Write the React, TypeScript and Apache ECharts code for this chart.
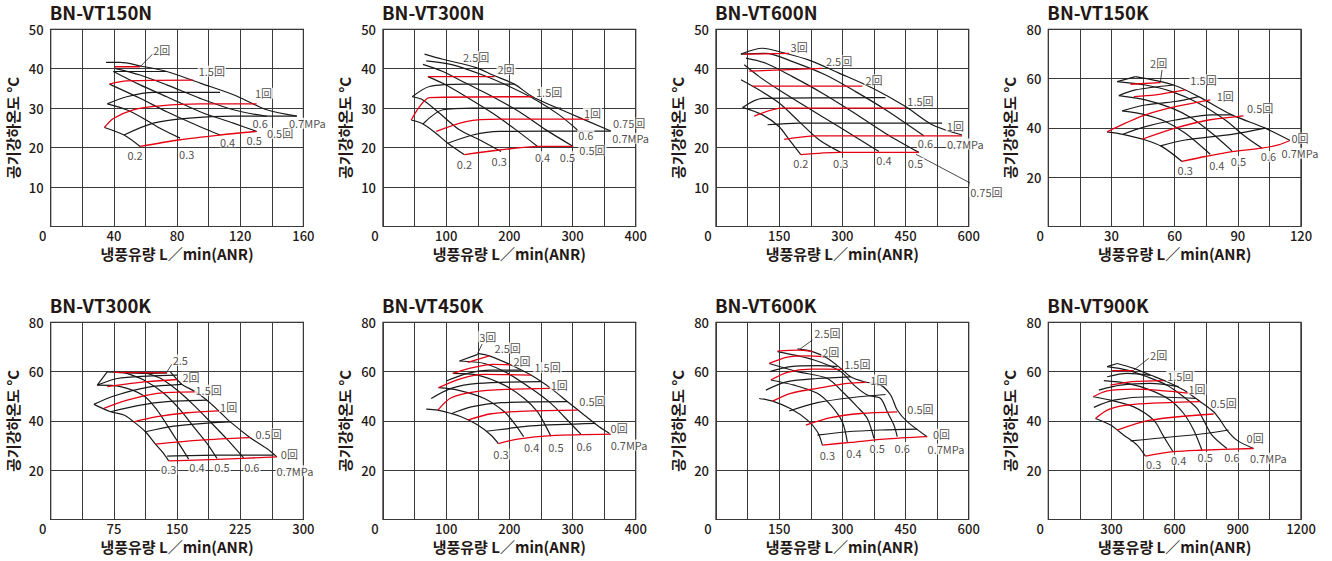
import React, { useEffect, useRef } from "react";
import * as echarts from "echarts";

type Pt = [number, number];
type Curve = Pt[];
type Lbl = [string, number, number];

const titles = ["BN-VT150N", "BN-VT300N", "BN-VT600N", "BN-VT150K", "BN-VT300K", "BN-VT450K", "BN-VT600K", "BN-VT900K"];
const xMaxes = [160, 400, 600, 120, 300, 400, 600, 1200];
const xLabelSteps = [40, 100, 150, 30, 75, 100, 150, 300];
const yMaxes = [50, 50, 50, 80, 80, 80, 80, 80];
const ySteps = [10, 10, 10, 20, 20, 20, 20, 20];
const xName = "냉풍유량 L／min(ANR)";
const yName = "공기강하온도 °C";

// ---------- BN-VT150N ----------
const vt150nBlack: Curve[] = [
  [[35, 41.6], [44, 41.6], [57, 40.7], [73.5, 39.3], [95, 36.3], [115.7, 33.4], [136.8, 29.6], [155.8, 28]],
  [[40.7, 40.1], [56.6, 38.4], [73.5, 35.9], [94.6, 32.5], [115.7, 29.6], [136.8, 27.9]],
  [[39.7, 39.3], [56.6, 35.9], [73.5, 32.9], [94.6, 29.1], [115.7, 26.2], [130.4, 24.1]],
  [[37.2, 36.1], [56.6, 32.5], [73.5, 29.1], [94.6, 25.3], [107.2, 23.2]],
  [[35.9, 31.1], [48.1, 29.6], [58.7, 27.4], [69.2, 24.9], [81.9, 22.4]],
  [[34, 25.1], [46.4, 23.2], [56.6, 20.3]],
  [[39.7, 39.3], [73.5, 39.3]],
  [[35.9, 31.1], [48.1, 32.9], [65, 34], [107.2, 34]],
  [[46.4, 23.2], [65, 26.2], [86.1, 27.4], [115.7, 28], [155.8, 28]],
];
const vt150nRed: Curve[] = [
  [[40.7, 40.5], [56.6, 40.5]],
  [[37.2, 36.1], [48.1, 36.9], [90.3, 37.1]],
  [[34, 25.1], [39.7, 27.4], [52.3, 29.6], [69.2, 30.6], [94.6, 31.1], [130.4, 31.1]],
  [[56.6, 20.3], [81.9, 22], [107.2, 23.2], [130.4, 24.1]],
];
const vt150nLeaders: Curve[] = [[[56.6, 40.5], [65, 43.9]]];
const vt150nLabels: Lbl[] = [
  ["2回", 70.3, 44.8], ["1.5回", 102, 39.4], ["1回", 134.7, 33.8], ["0.5回", 145.2, 23.6],
  ["0.2", 53.4, 18.2], ["0.3", 86.1, 18.4], ["0.4", 112, 21.5], ["0.5", 128.8, 22], ["0.6", 132.6, 26.2], ["0.7MPa", 162.5, 26.2],
];

// ---------- BN-VT300N ----------
const vt300nBlack: Curve[] = [
  [[65.8, 43.7], [94.7, 42.4], [147.4, 40.3], [173.7, 38.4], [207.9, 36.1], [236.8, 32.9], [289.5, 29.1], [360.5, 24.2]],
  [[68.4, 42.0], [110.5, 41.0], [157.9, 38.4], [200, 35.5], [242.1, 32.1], [278.9, 28.3], [310.5, 24.1]],
  [[63.2, 41.1], [94.7, 39.3], [131.6, 36.3], [173.7, 32.9], [215.8, 29.1], [257.9, 24.5], [301, 20.3]],
  [[71.1, 38.0], [94.7, 36.3], [131.6, 32.9], [173.7, 28.7], [210.5, 24.5], [244.7, 20.3]],
  [[46.3, 32.9], [63.2, 32.1], [89.5, 28.7], [121, 24.5], [152.6, 22.0], [186.8, 19.0]],
  [[44.7, 27.0], [63.2, 26.0], [84.2, 23.6], [102.6, 21.1], [128.9, 18.2]],
  [[46.3, 32.9], [73.7, 35.5], [131.6, 36.1], [207.9, 36.1]],
  [[63.2, 26.0], [94.7, 29.6], [142, 30.0], [282, 30.0]],
  [[102.6, 21.1], [142, 23.2], [184.2, 24.1], [360.5, 24.2]],
];
const vt300nRed: Curve[] = [
  [[71.1, 38.0], [176.3, 38.0]],
  [[44.7, 27.0], [57.9, 30.4], [73.7, 32.7], [236.8, 32.9]],
  [[84.2, 24.1], [131.6, 26.6], [184.2, 27.2], [326, 27.2]],
  [[128.9, 18.2], [184.2, 19.4], [247.4, 20.3], [301, 20.3]],
];
const vt300nLeaders: Curve[] = [];
const vt300nLabels: Lbl[] = [
  ["2.5回", 147.4, 43.1], ["2回", 194.7, 39.9], ["1.5回", 263, 34.0], ["1回", 331.6, 28.7], ["0.75回", 389.5, 26.2], ["0.5回", 331.6, 19.3],
  ["0.2", 129, 15.9], ["0.3", 184, 16.5], ["0.4", 252.6, 17.7], ["0.5", 292, 17.7], ["0.6", 321, 23.2], ["0.7MPa", 392, 22.4],
];

// ---------- BN-VT600N ----------
const vt600nBlack: Curve[] = [
  [[59.2, 43.7], [110.5, 45.2], [157.9, 44.1], [221.1, 42.2], [292.1, 38.9], [371.1, 35.1], [450, 30.4], [513.2, 25.8], [584.2, 23.2]],
  [[59.2, 43.7], [118.4, 43.9], [181.6, 41.8], [260.5, 38.4], [331.6, 34.2], [402.6, 29.6], [493.4, 23.0]],
  [[71.1, 42.7], [118.4, 41.4], [181.6, 38.0], [252.6, 33.8], [323.7, 29.1], [402.6, 23.6], [481.6, 18.8]],
  [[67.1, 41.0], [102.6, 38.0], [150, 34.6], [213.2, 30.4], [292.1, 25.3], [386.8, 19.0]],
  [[59.2, 37.2], [102.6, 34.6], [150, 31.3], [197.4, 26.6], [244.7, 22.0], [296.1, 18.8]],
  [[63.2, 30.2], [110.5, 28.3], [150, 25.3], [173.7, 22.0], [201.3, 18.2]],
  [[63.2, 30.2], [110.5, 32.5], [402.6, 32.7]],
  [[122.4, 25.8], [197.4, 26.2], [536.8, 26.2]],
];
const vt600nRed: Curve[] = [
  [[67.1, 43.7], [173.7, 43.9]],
  [[78.9, 39.4], [252.6, 40.1]],
  [[86.8, 35.6], [347.4, 35.6]],
  [[90.8, 28.0], [157.9, 30.0], [450, 30.0]],
  [[161.8, 22.1], [236.8, 23.0], [584.2, 23.0]],
  [[201.3, 18.2], [292.1, 18.8], [481.6, 18.8]],
];
const vt600nLeaders: Curve[] = [[[475, 18.3], [604, 11.0]]];
const vt600nLabels: Lbl[] = [
  ["3回", 197.4, 45.4], ["2.5回", 292.1, 42.0], ["2回", 375, 37.2], ["1.5回", 485.5, 31.9], ["1回", 568.4, 25.5],
  ["0.6", 497.4, 21.1], ["0.7MPa", 592, 20.9], ["0.2", 201.3, 16.0], ["0.3", 296, 16.0], ["0.4", 398.7, 16.9], ["0.5", 473.7, 16.0], ["0.75回", 642, 8.8],
];

// ---------- BN-VT150K ----------
const vt150kBlack: Curve[] = [
  [[41.4, 60.8], [59.5, 57.4], [71.4, 52.7], [87.2, 45.3], [103, 39.9], [114.8, 34.9]],
  [[32.7, 58.8], [46.1, 57.4], [58.7, 54.7], [71.4, 50.0], [84.0, 43.2], [93.5, 36.5], [101.4, 31.8]],
  [[33.5, 53.1], [46.1, 51.4], [58.7, 48.0], [68.2, 43.9], [77.7, 37.8], [87.2, 30.7]],
  [[35.1, 46.9], [46.1, 45.3], [55.6, 42.6], [65.1, 37.8], [76.9, 29.3]],
  [[27.9, 38.4], [35.4, 37.4], [46.1, 35.1], [54.0, 32.4], [63.5, 26.4]],
  [[32.7, 58.8], [41.4, 60.8]],
  [[33.5, 53.1], [41.4, 55.4], [59.5, 57.4]],
  [[35.1, 46.9], [46.1, 49.3], [60.3, 50.7], [71.4, 52.7]],
  [[35.4, 37.4], [46.1, 40.5], [60.3, 43.2], [77.7, 45.3], [87.2, 45.3]],
  [[53.2, 32.7], [65.1, 35.1], [87.2, 37.4], [103, 39.9]],
];
const vt150kRed: Curve[] = [
  [[39.0, 57.7], [53.2, 58.4]],
  [[40.6, 52.7], [50.9, 53.4], [65.1, 55.4]],
  [[27.9, 38.4], [36.6, 41.9], [46.1, 45.3], [60.3, 48.6], [76.9, 51.4]],
  [[44.5, 35.4], [60.3, 39.9], [76.1, 43.2], [92.7, 44.9]],
  [[63.5, 26.4], [74.5, 28.4], [87.2, 30.4], [101.4, 31.8], [109.3, 33.1], [114.8, 34.9]],
];
const vt150kLeaders: Curve[] = [[[53.2, 58.4], [54, 63.5]]];
const vt150kLabels: Lbl[] = [
  ["2回", 52.4, 66.2], ["1.5回", 73.7, 59.5], ["1回", 84, 53], ["0.5回", 100.6, 48], ["0回", 119.5, 35.8], ["0.7MPa", 119.5, 29.7],
  ["0.3", 65, 23], ["0.4", 80, 25], ["0.5", 90.3, 26.4], ["0.6", 104.5, 28.4],
];

// ---------- BN-VT300K ----------
const vt300kBlack: Curve[] = [
  [[142.1, 59.9], [150.0, 56.8], [155.9, 54.8], [171.7, 51.8], [185.5, 48.4], [199.4, 44.1], [213.2, 39.6], [236.9, 33.2], [256.6, 28.8], [268.5, 25.4]],
  [[114.5, 59.3], [130.3, 57.3], [150.0, 52.5], [169.8, 46.4], [189.5, 39.6], [209.2, 32.6], [229.0, 25.0]],
  [[86.9, 59.7], [110.5, 56.6], [134.2, 51.2], [154.0, 44.4], [169.8, 37.6], [185.5, 30.9], [197.4, 24.8]],
  [[55.3, 54.5], [82.9, 53.9], [110.5, 50.2], [126.3, 44.4], [138.2, 38.3], [152.0, 30.9], [163.8, 24.5]],
  [[51.3, 46.7], [71.1, 43.7], [86.9, 42.4], [98.7, 39.6], [112.5, 35.6], [124.4, 30.6], [132.3, 27.5], [140.1, 23.8]],
  [[67.1, 59.9], [55.3, 54.5]],
  [[67.1, 59.9], [114.5, 59.3], [138.2, 59.5]],
  [[55.3, 54.5], [79.0, 57.2], [114.5, 58.2], [150.0, 58.6]],
  [[51.3, 46.7], [75.0, 50.1], [114.5, 53.6], [155.9, 54.8]],
  [[71.1, 43.7], [106.6, 46.4], [138.2, 47.8], [185.5, 48.4]],
  [[112.5, 35.6], [146.1, 37.9], [189.5, 39.2], [213.2, 39.6]],
  [[138.2, 25.7], [197.4, 26.1], [264.5, 26.1]],
];
const vt300kRed: Curve[] = [
  [[75.0, 59.7], [138.2, 59.5]],
  [[67.1, 53.9], [114.5, 55.9], [150.0, 56.8]],
  [[63.2, 45.1], [90.8, 48.4], [126.3, 51.2], [171.7, 51.8]],
  [[98.7, 39.6], [126.3, 41.7], [161.9, 43.3], [199.4, 44.1]],
  [[124.4, 30.6], [177.7, 32.2], [236.9, 33.2]],
  [[140.1, 23.8], [197.4, 24.4], [268.5, 25.4]],
];
const vt300kLeaders: Curve[] = [[[138.2, 60], [144, 63.1]]];
const vt300kLabels: Lbl[] = [
  ["2.5", 153.9, 64.7], ["2回", 166.6, 57.7], ["1.5回", 187.5, 52.5], ["1回", 211.2, 45.8], ["0.5回", 258.6, 34.7], ["0回", 283.4, 26.5],
  ["0.7MPa", 290, 19.8], ["0.3", 140.1, 20.3], ["0.4", 173.7, 21.4], ["0.5", 203.3, 21.4], ["0.6", 238.8, 21.4],
];

// ---------- BN-VT450K ----------
const vt450kBlack: Curve[] = [
  [[150, 67.4], [168.4, 66.4], [202.6, 62.7], [234.2, 58.6], [265.8, 53.2], [292.1, 47.8], [318.4, 42.4], [342.1, 37.6], [360.5, 34.6]],
  [[121.1, 64.3], [160.5, 63.3], [197.4, 59.3], [234.2, 53.2], [265.8, 47.1], [286.8, 41.7], [313.2, 34.6]],
  [[110.5, 59.3], [150, 58.6], [192.1, 54.5], [223.7, 49.1], [244.7, 43.7], [255.3, 39.0], [265.8, 33.8]],
  [[87.9, 53.5], [118.4, 52.5], [160.5, 49.1], [192.1, 43.7], [207.9, 39.0], [222.6, 33.6]],
  [[68.4, 44.8], [86.9, 44.4], [123.7, 41.7], [150, 38.3], [171.1, 34.2], [182.6, 30.8]],
  [[121.1, 64.3], [150, 67.0]],
  [[100, 56.2], [134.2, 59.3], [171.1, 60.6], [218.4, 60.6]],
  [[76.3, 49.1], [107.9, 53.2], [150, 55.2], [250, 55.9]],
  [[107.9, 42.9], [139.5, 45.7], [186.8, 47.4], [292.1, 47.8]],
  [[163.2, 35.8], [192.1, 36.7], [234.2, 38.0], [336.8, 39.0]],
];
const vt450kRed: Curve[] = [
  [[134.2, 63.7], [168.4, 66.4]],
  [[110.5, 59.3], [142.1, 61.6], [173.7, 62.9], [202.6, 62.7]],
  [[87.9, 53.5], [123.7, 57.2], [160.5, 58.9], [234.2, 58.6]],
  [[86.9, 44.4], [107.9, 49.4], [144.7, 51.8], [197.4, 52.8], [265.8, 53.2]],
  [[134.2, 40.3], [171.1, 42.9], [223.7, 44.0], [307.9, 44.4]],
  [[182.6, 30.8], [213.2, 32.6], [265.8, 34.0], [360.5, 34.6]],
];
const vt450kLeaders: Curve[] = [[[150, 67.4], [156.8, 71.2]]];
const vt450kLabels: Lbl[] = [
  ["3回", 165.8, 74.2], ["2.5回", 197.4, 69.6], ["2回", 220, 64.3], ["1.5回", 260.5, 61.7], ["1回", 278.9, 54.6], ["0.5回", 331.6, 48.2],
  ["0回", 373.7, 37.0], ["0.7MPa", 389.5, 30.2], ["0.3", 186.8, 26.5], ["0.4", 235.3, 29.5], ["0.5", 273.7, 29.5], ["0.6", 318.4, 29.8],
];

// ---------- BN-VT600K ----------
const vt600kBlack: Curve[] = [
  [[193.4, 69.2], [229.0, 68.1], [264.5, 65.4], [296.1, 61.3], [319.7, 57.9], [351.3, 55.9], [390.8, 54.5], [414.5, 50.5], [430.3, 44.4], [454.0, 39.7], [501.3, 33.6]],
  [[146.1, 68.1], [232.9, 64.7], [296.1, 60.0], [327.6, 54.5], [359.2, 50.5], [390.8, 49.1], [406.6, 43.7], [422.4, 38.3], [430.3, 33.6]],
  [[126.3, 63.3], [193.4, 60.0], [264.5, 57.2], [304.0, 51.2], [335.5, 45.7], [359.2, 41.0], [375.0, 32.9]],
  [[130.3, 56.6], [185.5, 54.5], [240.8, 51.2], [272.4, 46.4], [300.0, 39.6], [311.9, 31.5]],
  [[102.6, 49.1], [134.2, 48.0], [177.6, 44.9], [217.1, 40.3], [240.8, 35.6], [252.6, 30.2]],
  [[127.9, 60.0], [177.6, 62.0], [240.8, 62.4], [288.2, 62.0]],
  [[118.4, 52.5], [169.7, 55.9], [240.8, 57.2], [319.7, 57.9]],
  [[173.7, 44.0], [240.8, 47.4], [319.7, 49.4], [402.6, 50.7]],
  [[240.8, 34.2], [311.9, 35.6], [390.8, 36.3], [477.7, 36.7]],
];
const vt600kRed: Curve[] = [
  [[146.1, 68.3], [193.4, 68.7], [229.0, 68.1]],
  [[126.3, 63.3], [169.7, 65.9], [217.1, 66.4], [256.6, 66.0]],
  [[130.3, 56.6], [169.7, 59.7], [225.0, 61.0], [300.0, 60.9]],
  [[134.2, 48.0], [177.6, 51.2], [240.8, 53.2], [311.9, 55.2], [355.3, 55.6]],
  [[213.2, 38.3], [272.4, 41.3], [343.4, 43.0], [430.3, 43.7]],
  [[252.6, 30.2], [319.7, 31.3], [398.7, 32.6], [501.3, 33.6]],
];
const vt600kLeaders: Curve[] = [[[200, 69.2], [229, 72.8]]];
const vt600kLabels: Lbl[] = [
  ["2.5回", 264.5, 75.8], ["2回", 272.4, 68.1], ["1.5回", 335.5, 63.1], ["1回", 386.8, 56.6], ["0.5回", 485.5, 44.8], ["0回", 535.3, 34.6],
  ["0.7MPa", 546, 28.6], ["0.3", 264.5, 26.1], ["0.4", 327.6, 27.1], ["0.5", 382.9, 29.2], ["0.6", 442.1, 29.2],
];

// ---------- BN-VT900K ----------
const vt900kBlack: Curve[] = [
  [[327.0, 63.3], [406.0, 61.3], [484.9, 58.6], [563.9, 55.9], [642.8, 52.5], [721.8, 47.8], [784.9, 43.7], [816.5, 40.3], [848.1, 36.3], [895.4, 32.2], [974.4, 28.8]],
  [[279.6, 62.0], [374.4, 60.6], [469.1, 57.9], [563.9, 54.5], [642.8, 49.8], [706.0, 45.1], [737.5, 40.3], [777.0, 34.2], [848.1, 28.8]],
  [[263.8, 56.3], [374.4, 55.2], [484.9, 52.5], [579.6, 48.4], [642.8, 43.0], [690.2, 36.3], [729.6, 28.1]],
  [[213.3, 49.8], [295.4, 48.4], [406.0, 45.7], [500.7, 40.3], [548.1, 33.6], [592.3, 27.5]],
  [[224.4, 41.0], [295.4, 38.3], [358.6, 34.2], [421.7, 30.2], [461.2, 25.7]],
  [[279.6, 62.0], [327.0, 63.3]],
  [[279.6, 57.9], [374.4, 59.3], [484.9, 58.5]],
  [[240.2, 52.5], [342.8, 54.5], [484.9, 55.2], [619.1, 53.9]],
  [[216.5, 45.5], [311.2, 48.4], [484.9, 49.8], [698.1, 49.1]],
  [[390.2, 31.9], [745.4, 34.9], [856.0, 36.3]],
];
const vt900kRed: Curve[] = [
  [[303.3, 60.4], [406.0, 60.4]],
  [[295.4, 54.5], [398.1, 55.9], [548.1, 56.3]],
  [[213.3, 49.8], [279.6, 52.2], [406.0, 52.9], [674.4, 51.2]],
  [[224.4, 41.0], [287.5, 44.7], [406.0, 46.7], [721.8, 47.8]],
  [[327.0, 36.3], [484.9, 40.3], [784.9, 42.8]],
  [[461.2, 25.7], [595.4, 27.5], [721.8, 28.1], [974.4, 28.8]],
];
const vt900kLeaders: Curve[] = [[[406.0, 60.6], [476.9, 65.4]]];
const vt900kLabels: Lbl[] = [
  ["2回", 524, 66.7], ["1.5回", 626.9, 58.2], ["1回", 705.8, 52.9], ["0.5回", 832.1, 47.4], ["0回", 982.1, 32.9], ["0.7MPa", 1045, 24.8],
  ["0.3", 500.5, 22.7], ["0.4", 619, 24.1], ["0.5", 745.3, 25.2], ["0.6", 871.6, 25.2],
];

const blackSets = [vt150nBlack, vt300nBlack, vt600nBlack, vt150kBlack, vt300kBlack, vt450kBlack, vt600kBlack, vt900kBlack];
const redSets = [vt150nRed, vt300nRed, vt600nRed, vt150kRed, vt300kRed, vt450kRed, vt600kRed, vt900kRed];
const leaderSets = [vt150nLeaders, vt300nLeaders, vt600nLeaders, vt150kLeaders, vt300kLeaders, vt450kLeaders, vt600kLeaders, vt900kLeaders];
const labelSets = [vt150nLabels, vt300nLabels, vt600nLabels, vt150kLabels, vt300kLabels, vt450kLabels, vt600kLabels, vt900kLabels];

const FONT = "'Noto Sans CJK KR', 'Noto Sans', sans-serif";
const INK = "#231815";
const RED = "#e60012";
const GRIDLINE = "#3a3a3a";
const gridLefts = [50.7, 383, 716, 1048.3];
const gridTops = [29.3, 322.3];
const gridW = 252.7;
const gridH = 197.2;

function buildOption() {
  const grid: any[] = [];
  const xAxis: any[] = [];
  const yAxis: any[] = [];
  const title: any[] = [];
  const series: any[] = [];
  for (let i = 0; i < 8; i++) {
    const col = i % 4;
    const row = Math.floor(i / 4);
    grid.push({
      left: gridLefts[col], top: gridTops[row], width: gridW, height: gridH,
      show: true, borderColor: INK, borderWidth: 1.2, containLabel: false,
    });
    title.push({
      text: titles[i], left: gridLefts[col] - 1, top: row === 0 ? 3 : 296, padding: 0,
      textStyle: { fontFamily: FONT, fontSize: 18.5, fontWeight: "bold", color: INK },
    });
    const step = xLabelSteps[i];
    xAxis.push({
      gridIndex: i, type: "value", min: 0, max: xMaxes[i], interval: step / 2,
      axisLine: { show: false }, axisTick: { show: false },
      splitLine: { show: true, lineStyle: { color: GRIDLINE, width: 1 } },
      axisLabel: {
        margin: 2, fontSize: 13, color: INK, fontFamily: FONT, fontWeight: 500,
        showMinLabel: true, showMaxLabel: true,
        formatter: (v: number) => {
          if (v === 0) return "{z|0}";
          const r = v / step;
          return Math.abs(r - Math.round(r)) < 1e-6 ? String(v) : "";
        },
        rich: { z: { padding: [0, 16, 0, 0], fontSize: 13, color: INK, fontFamily: FONT, fontWeight: 500 } },
      },
      name: xName, nameLocation: "middle", nameGap: 19,
      nameTextStyle: { fontFamily: FONT, fontSize: 15, fontWeight: "bold", color: INK },
    });
    yAxis.push({
      gridIndex: i, type: "value", min: 0, max: yMaxes[i], interval: ySteps[i],
      axisLine: { show: false }, axisTick: { show: false },
      splitLine: { show: true, lineStyle: { color: GRIDLINE, width: 1 } },
      axisLabel: {
        margin: 7, fontSize: 13, color: INK, fontFamily: FONT, fontWeight: 500,
        formatter: (v: number) => (v === 0 ? "" : String(v)),
      },
      name: yName, nameLocation: "middle", nameRotate: 90, nameGap: 31,
      nameTextStyle: { fontFamily: FONT, fontSize: 15, fontWeight: "bold", color: INK },
    });
    blackSets[i].forEach((c) =>
      series.push({
        type: "line", xAxisIndex: i, yAxisIndex: i, data: c, symbol: "none", smooth: 0.3, silent: true,
        lineStyle: { color: "#1a1a1a", width: 1.2 }, z: 3,
      })
    );
    redSets[i].forEach((c) =>
      series.push({
        type: "line", xAxisIndex: i, yAxisIndex: i, data: c, symbol: "none", smooth: 0.3, silent: true,
        lineStyle: { color: RED, width: 1.3 }, z: 4,
      })
    );
    leaderSets[i].forEach((c) =>
      series.push({
        type: "line", xAxisIndex: i, yAxisIndex: i, data: c, symbol: "none", silent: true, clip: false,
        lineStyle: { color: "#1a1a1a", width: 0.8 }, z: 4,
      })
    );
    series.push({
      type: "scatter", xAxisIndex: i, yAxisIndex: i, symbolSize: 1, clip: false, silent: true,
      itemStyle: { color: "rgba(0,0,0,0)" }, z: 6,
      data: labelSets[i].map(([t, x, y]) => ({ name: t, value: [x, y] })),
      label: {
        show: true, position: "inside", formatter: "{b}", fontFamily: FONT, fontSize: 11, color: INK,
        backgroundColor: "#fff", padding: [0, 1], lineHeight: 11,
      },
    });
  }
  return { animation: false, backgroundColor: "#fff", title, grid, xAxis, yAxis, series };
}

export default function App() {
  const ref = useRef<HTMLDivElement>(null);
  useEffect(() => {
    if (!ref.current) return;
    const chart = echarts.init(ref.current, undefined, { renderer: "svg" });
    chart.setOption(buildOption() as any);
    return () => chart.dispose();
  }, []);
  return (
    <div
      ref={ref}
      style={{ position: "fixed", left: 0, top: 0, width: 1332, height: 561, background: "#fff" }}
    />
  );
}
